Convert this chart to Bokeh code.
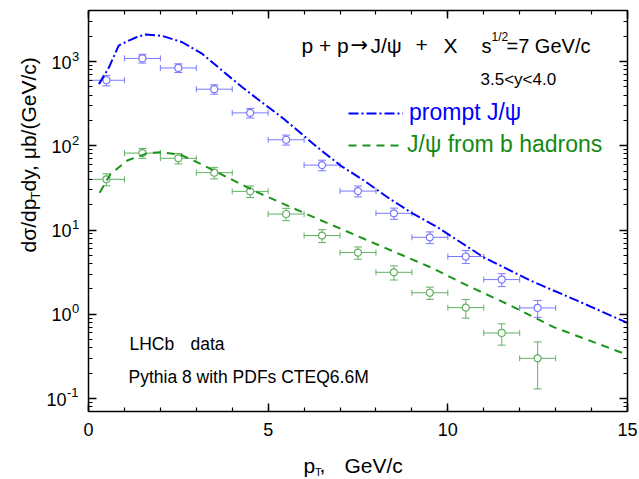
import math
from bokeh.plotting import figure
from bokeh.models import (LinearAxis, LogAxis, SingleIntervalTicker, LogTicker, Whisker, TeeHead,
                          ColumnDataSource, Label, Legend, LegendItem, Range1d,
                          CustomJSTickFormatter)
from bokeh.embed import file_html
from bokeh.resources import INLINE

# ---------------- data ----------------
pt_bins = [0.5, 1.5, 2.5, 3.5, 4.5, 5.5, 6.5, 7.5, 8.5, 9.5, 10.5, 11.5, 12.5]
pt_halfwidth = [0.5] * 13

prompt_data = [600, 1090, 840, 470, 246, 118, 59, 29, 15.8, 8.2, 4.85, 2.58, 1.19]
prompt_err = [85, 130, 100, 60, 32, 16, 8.5, 4.3, 2.4, 1.3, 0.85, 0.45, 0.27]

bhad_data = [40, 82, 71, 48, 28.8, 15.5, 8.6, 5.4, 3.15, 1.8, 1.2, 0.6, 0.3]
bhad_err = [6.5, 11, 10, 7.5, 4.5, 2.6, 1.5, 0.9, 0.6, 0.3, 0.3, 0.17, 0.17]

prompt_curve_pt = [0.29, 0.57, 0.84, 1.12, 1.35, 1.59, 2.05, 2.61, 3.17, 3.72, 4.28, 4.84,
                   5.44, 5.72, 6.37, 7.02, 7.67, 8.32, 8.97, 9.71, 11.0, 12.31, 13.6, 15.0]
prompt_curve = [540, 855, 1550, 1775, 1960, 2094, 2018, 1696, 1233, 781, 495, 325,
                208, 165, 96, 58, 38.6, 24.5, 16.2, 10.8, 4.74, 2.5, 1.45, 0.79]

bhad_curve_pt = [0.31, 0.61, 1.08, 1.63, 2.0, 2.56, 3.12, 3.86, 4.7, 6.37, 8.23,
                 9.53, 10.45, 11.66, 12.96, 15.0]
bhad_curve = [27.8, 46, 67, 81.5, 84, 78.5, 61, 42.3, 28, 13.6, 6.2,
              3.6, 2.29, 1.32, 0.70, 0.33]

x_ticks = [0, 5, 10, 15]
y_decades = [-1, 0, 1, 2, 3]

# ---------------- layout ----------------
W, H = 639, 479
FL, FR, FT, FB = 88, 627, 10, 411      # plot box in canvas pixels
X0, X1 = 0.0, 15.0
Y0, Y1 = 0.0701, 4040.0

FONT = "Liberation Sans"
BLUE = "#0000ff"
BLUE_PT = "#7878ff"
GREEN = "#1a931a"
GREEN_PT = "#62b062"
GREEN_TXT = "#128a12"


def xd(px):
    return X0 + (px - FL) / (FR - FL) * (X1 - X0)


def yd(py):
    ly = math.log10(Y1) - (py - FT) / (FB - FT) * (math.log10(Y1) - math.log10(Y0))
    return 10 ** ly


p = figure(width=W, height=H, x_range=Range1d(xd(0), xd(W)), y_range=Range1d(yd(H), yd(0)),
           y_axis_type="log", output_backend="svg", toolbar_location=None,
           min_border_left=0, min_border_right=0, min_border_top=0, min_border_bottom=0)
p.grid.visible = False
p.outline_line_color = None
p.background_fill_color = "white"
p.border_fill_color = "white"

EMPTY = CustomJSTickFormatter(code="return ''")


def style_axis(ax, show_labels):
    ax.axis_line_width = 1.5
    ax.axis_line_color = "black"
    ax.major_tick_in = 8
    ax.major_tick_out = 0
    ax.minor_tick_in = 4
    ax.minor_tick_out = 0
    ax.major_tick_line_width = 1.5
    ax.minor_tick_line_width = 1.2
    ax.major_tick_line_color = "black"
    ax.minor_tick_line_color = "black"
    if show_labels:
        ax.major_label_text_font = FONT
        ax.major_label_text_font_size = "18px"
        ax.major_label_text_color = "black"
        ax.major_label_standoff = 11
    else:
        ax.formatter = EMPTY
        ax.major_label_text_font_size = "2px"
        ax.major_label_standoff = 0


for ax in p.xaxis:
    ax.ticker = SingleIntervalTicker(interval=5, num_minor_ticks=5)
    ax.fixed_location = Y0
    ax.bounds = (X0, X1)
    style_axis(ax, True)
for ax in p.yaxis:
    ax.ticker = LogTicker(num_minor_ticks=10)
    ax.fixed_location = X0
    ax.bounds = (Y0, Y1)
    style_axis(ax, False)

top = LinearAxis(ticker=SingleIntervalTicker(interval=5, num_minor_ticks=5),
                 fixed_location=Y1, bounds=(X0, X1))
style_axis(top, False)
p.add_layout(top, "above")
right = LogAxis(ticker=LogTicker(num_minor_ticks=10), fixed_location=X1, bounds=(Y0, Y1))
style_axis(right, False)
p.add_layout(right, "right")

# ---------------- data points with error bars ----------------
def add_points(vals, errs, col):
    src = ColumnDataSource(dict(
        x=pt_bins, y=vals,
        ylo=[v - e for v, e in zip(vals, errs)], yhi=[v + e for v, e in zip(vals, errs)],
        xlo=[x - h for x, h in zip(pt_bins, pt_halfwidth)],
        xhi=[x + h for x, h in zip(pt_bins, pt_halfwidth)]))
    wv = Whisker(source=src, base="x", lower="ylo", upper="yhi", dimension="height",
                 line_color=col, line_width=1, level="underlay",
                 upper_head=TeeHead(size=8, line_color=col, line_width=1),
                 lower_head=TeeHead(size=8, line_color=col, line_width=1))
    wh = Whisker(source=src, base="y", lower="xlo", upper="xhi", dimension="width",
                 line_color=col, line_width=1, level="underlay",
                 upper_head=TeeHead(size=6, line_color=col, line_width=1),
                 lower_head=TeeHead(size=6, line_color=col, line_width=1))
    p.add_layout(wv)
    p.add_layout(wh)
    p.scatter("x", "y", source=src, marker="circle", size=7, line_color=col,
              line_width=1.2, fill_color="white")


add_points(prompt_data, prompt_err, BLUE_PT)
add_points(bhad_data, bhad_err, GREEN_PT)

# ---------------- curves ----------------
l_prompt = p.line(prompt_curve_pt, prompt_curve, line_color=BLUE, line_width=2,
                  line_dash="10 3 2 3")
l_bhad = p.line(bhad_curve_pt, bhad_curve, line_color=GREEN, line_width=2,
                line_dash="8 6")

# ---------------- legends ----------------
def make_legend(label, rend, color, loc, gw):
    lg = Legend(items=[LegendItem(label=label, renderers=[rend])], location=loc,
                label_text_font=FONT, label_text_font_size="23px", label_text_color=color,
                glyph_width=gw, glyph_height=20, label_height=20, label_standoff=6,
                padding=0, margin=0, spacing=0, border_line_color=None,
                background_fill_alpha=0)
    p.add_layout(lg)


make_legend("prompt J/\u03c8", l_prompt, BLUE, (348, H - 126), 55)
make_legend("J/\u03c8 from b hadrons", l_bhad, GREEN_TXT, (348, H - 158), 53)

# ---------------- texts ----------------
SHIFT = 0.35   # baseline correction, in em


def lab(px, py, text, size, color="black", align="left", angle=0.0, font=FONT):
    if angle == 0.0:
        py = py - SHIFT * size
    else:
        px = px - SHIFT * size
    p.add_layout(Label(x=xd(px), y=yd(py), text=text, text_font=font,
                       text_font_size=f"{size}px", text_color=color, text_align=align,
                       text_baseline="alphabetic", angle=angle))


lab(301, 52, "p + p", 21)
lab(350, 52, "\u2192", 21, font="DejaVu Sans")
lab(370, 52, "J/\u03c8", 21)
lab(415, 52, "+", 21)
lab(443, 52, "X", 21)
lab(481, 52, "s", 20)
lab(491, 41, "1/2", 12)
lab(506, 52, "=7 GeV/c", 20)
lab(480, 85, "3.5<y<4.0", 17)
lab(129, 350, "LHCb", 17.5)
lab(190, 350, "data", 17.5)
lab(128, 383, "Pythia 8 with PDFs CTEQ6.6M", 17.5)

# y tick labels: 10^k
for k in y_decades:
    py = FT + (math.log10(Y1) - k) / (math.log10(Y1) - math.log10(Y0)) * (FB - FT)
    right_edge = 71 if k >= 0 else 66
    lab(right_edge, py + 7, "10", 18, align="right")
    lab(right_edge + 0.5, py - 1, str(k), 13)

# x axis title: p_T, GeV/c
lab(303, 472, "p", 21)
lab(314.5, 475.5, "T", 11)
lab(319, 472, ",", 21)
lab(344, 472, "GeV/c", 21)

# y axis title (rotated)
ang = math.pi / 2
lab(35, 252, "d\u03c3/dp", 21, angle=ang)
lab(40, 199, "T", 13, angle=ang)
lab(35, 191, "dy, \u03bcb/(GeV/c)", 21, angle=ang)

open("out.html", "w").write(file_html(p, INLINE))
